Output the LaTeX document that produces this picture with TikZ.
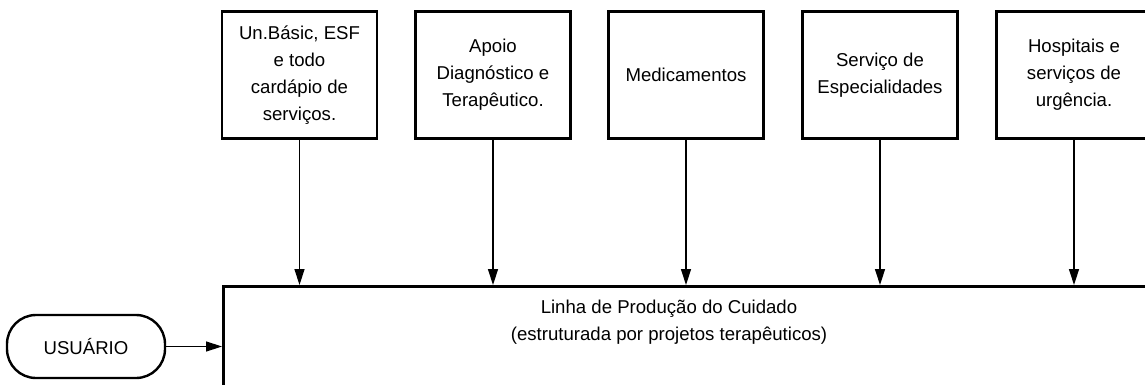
\documentclass[tikz,border=0pt]{standalone}
\usepackage{fontspec}
\setmainfont{Liberation Sans}
\usetikzlibrary{arrows.meta}

\begin{document}
\begin{tikzpicture}[x=1pt,y=-1pt,
  box/.style={draw,line width=2.8pt,minimum width=155pt,minimum height=127pt,align=center,inner sep=0pt,font=\fontsize{18.6}{27}\selectfont},
  seta/.style={line width=1.4pt,-{Triangle[length=16pt,width=10pt]}}]
\useasboundingbox (0,0) rectangle (1145,385);
\clip (0,0) rectangle (1145,385);

% Boxes
\node[box] (basic) at (299.5,75) {Un.Básic, ESF\\e todo\\cardápio de\\serviços.};
\node[box] (apoio) at (493,75) {Apoio\\Diagnóstico e\\Terapêutico.};
\node[box] (medic) at (686,75) {Medicamentos};
\node[box] (espec) at (880,75) {Serviço de\\Especialidades};
\node[box] (hosp) at (1074,75) {Hospitais e\\serviços de\\urgência.};

% Linha de producao
\node[draw,line width=2.8pt,minimum width=960pt,minimum height=160pt,anchor=north west] (linha) at (222,285) {};
\node[align=center,font=\fontsize{18.6}{27}\selectfont] (cuidado) at (669,322) {Linha de Produção do Cuidado\\(estruturada por projetos terapêuticos)};

\foreach \b in {basic,apoio,medic,espec,hosp}
  \draw[seta] (\b) -- (\b |- linha.north);

% Usuario
\node[draw,line width=2.4pt,rounded corners=29pt,minimum width=158pt,minimum height=63pt,font=\fontsize{18.6}{22}\selectfont] (usuario) at (86,346.5) {USUÁRIO};
\draw[seta] (usuario) -- (usuario -| linha.west);
\end{tikzpicture}
\end{document}
